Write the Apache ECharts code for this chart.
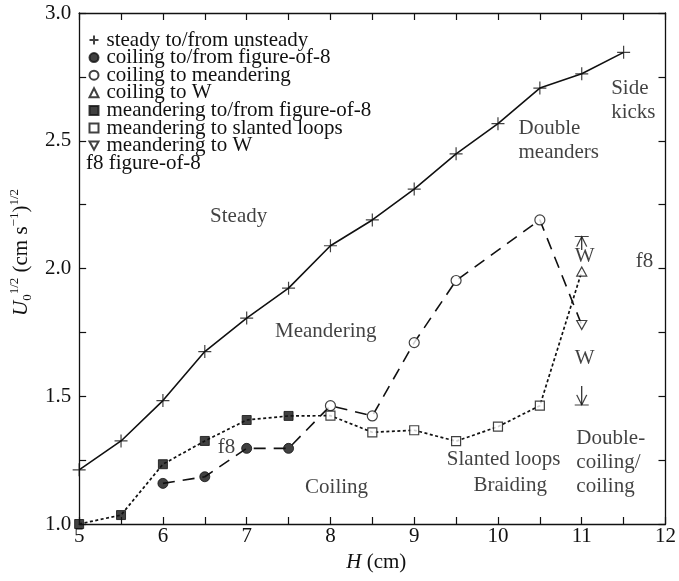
<!DOCTYPE html>
<html>
<head>
<meta charset="utf-8">
<script src="https://cdn.jsdelivr.net/npm/echarts@6/dist/echarts.min.js"></script>
<style>
html,body{margin:0;padding:0;background:#fff;}
#chart{width:679px;height:581px;}
</style>
</head>
<body>
<div id="chart"></div>
<script>
// ---- data (H in cm, U0^(1/2) in (cm s^-1)^(1/2)) ----
const steadyH = [5, 5.5, 6, 6.5, 7, 7.5, 8, 8.5, 9, 9.5, 10, 10.5, 11, 11.5];
const steadyU = [1.212, 1.325, 1.483, 1.675, 1.806, 1.923, 2.089, 2.19, 2.311, 2.449, 2.567, 2.706, 2.762, 2.846];

const coilF8H = [6, 6.5, 7, 7.5];
const coilF8U = [1.159, 1.185, 1.296, 1.296];

const coilMeanderH = [8, 8.5, 9, 9.5, 10.5];
const coilMeanderU = [1.463, 1.423, 1.71, 1.953, 2.19];

const coilWH = [11];
const coilWU = [1.988];

const meanderF8H = [5, 5.5, 6, 6.5, 7, 7.5];
const meanderF8U = [1.0, 1.035, 1.234, 1.325, 1.407, 1.423];

const meanderSlantedH = [8, 8.5, 9, 9.5, 10, 10.5];
const meanderSlantedU = [1.424, 1.359, 1.367, 1.324, 1.381, 1.463];

const meanderWH = [11];
const meanderWU = [1.779];

// W range arrows at H = 11 (start, end)
const wArrowUp = [[11, 2.072], [11, 2.125]];
const wArrowDown = [[11, 1.54], [11, 1.466]];

const xTicks = [5, 6, 7, 8, 9, 10, 11, 12];
const yTicks = [1.0, 1.5, 2.0, 2.5, 3.0];

// regime annotations in data coordinates
const regionText = ['Steady', 'Meandering', 'Double\nmeanders', 'Side\nkicks', 'f8', 'f8', 'W', 'W',
  'Double-\ncoiling/\ncoiling', 'Slanted loops', 'Braiding', 'Coiling'];
const regionH = [6.904, 7.944, 10.245, 11.351, 11.748, 6.758, 11.035, 11.035, 10.936, 10.068, 10.146, 8.073];
const regionU = [2.204, 1.753, 2.502, 2.657, 2.027, 1.299, 2.047, 1.649, 1.241, 1.253, 1.149, 1.142];
const regionAlign = ['center', 'center', 'left', 'left', 'center', 'center', 'center', 'center', 'left', 'center', 'center', 'center'];

// ---- helpers ----
const zip = (xs, ys) => xs.map((x, i) => [x, ys[i]]);
const FONT = 'Liberation Serif';
const INK = '#111';

const plusPath = 'path://M6,0 L6,12 M0,6 L12,6';
const downTri = 'path://M0,0 L10,0 L5,9 Z';
const upHead = 'path://M0,0 L14,0 M2,10 L7,0 L12,10';
const downHead = 'path://M0,10 L14,10 M2,0 L7,10 L12,0';

const dashedLine = zip(coilF8H, coilF8U).concat(zip(coilMeanderH, coilMeanderU), zip(meanderWH, meanderWU));
const dottedLine = zip(meanderF8H, meanderF8U).concat(zip(meanderSlantedH, meanderSlantedU), zip(coilWH, coilWU));

const openStyle = {color: '#fff', borderColor: INK, borderWidth: 1.2};
const fillStyle = {color: INK, borderColor: INK, borderWidth: 1};

const axisCommon = {
  type: 'value',
  axisLine: {show: true, lineStyle: {color: INK, width: 1.3}},
  axisTick: {show: true, inside: true, length: 7, lineStyle: {color: INK, width: 1.2}},
  splitLine: {show: false}
};

const chart = echarts.init(document.getElementById('chart'), null, {renderer: 'canvas'});

const option = {
  backgroundColor: '#fff',
  animation: false,
  textStyle: {fontFamily: FONT, color: INK},
  grid: {left: 77, right: 11, top: 13, bottom: 57, containLabel: false},
  legend: {
    orient: 'vertical',
    left: 88.5,
    top: 29.5,
    padding: 0,
    itemWidth: 9,
    itemHeight: 9,
    itemGap: -3.4,
    selectedMode: false,
    textStyle: {fontFamily: FONT, fontSize: 21, color: INK, padding: [0, 0, 0, 3]},
    data: [
      {name: 'steady to/from unsteady', icon: plusPath},
      {name: 'coiling to/from figure-of-8'},
      {name: 'coiling to meandering'},
      {name: 'coiling to W'},
      {name: 'meandering to/from figure-of-8'},
      {name: 'meandering to slanted loops'},
      {name: 'meandering to W'}
    ]
  },
  graphic: [{
    type: 'text', left: 86, top: 153,
    style: {text: 'f8 figure-of-8', font: '21px "Liberation Serif"', fill: INK}
  }],
  xAxis: [
    Object.assign({}, axisCommon, {
      min: 5, max: 12, interval: 0.5, position: 'bottom',
      name: '{i|H} (cm)', nameLocation: 'middle', nameGap: 26,
      nameTextStyle: {fontFamily: FONT, fontSize: 21, color: INK, padding: [0, 0, 0, 8],
        rich: {i: {fontStyle: 'italic', fontFamily: FONT, fontSize: 21, color: INK}}},
      axisLabel: {show: true, margin: 2, fontFamily: FONT, fontSize: 21, color: INK,
        formatter: v => xTicks.indexOf(v) >= 0 ? String(v) : ''}
    }),
    Object.assign({}, axisCommon, {
      min: 5, max: 12, interval: 0.5, position: 'top', axisLabel: {show: false}
    })
  ],
  yAxis: [
    Object.assign({}, axisCommon, {
      min: 1, max: 3, interval: 0.25, position: 'left',
      name: '{i|U}{sub|0}{sup|1/2}{n| (cm s}{sup|−1}{n|)}{sup|1/2}',
      nameLocation: 'middle', nameRotate: 90, nameGap: 38,
      nameTextStyle: {fontFamily: FONT, fontSize: 21, color: INK, padding: [0, 0, 0, 32],
        rich: {
          i: {fontStyle: 'italic', fontFamily: FONT, fontSize: 21, lineHeight: 26, color: INK},
          n: {fontFamily: FONT, fontSize: 21, lineHeight: 26, color: INK},
          sup: {fontFamily: FONT, fontSize: 13, lineHeight: 13, verticalAlign: 'top', color: INK},
          sub: {fontFamily: FONT, fontSize: 13, lineHeight: 13, verticalAlign: 'bottom', color: INK}
        }},
      axisLabel: {show: true, margin: 8, fontFamily: FONT, fontSize: 21, color: INK,
        formatter: v => yTicks.some(t => Math.abs(t - v) < 1e-9) ? v.toFixed(1) : ''}
    }),
    Object.assign({}, axisCommon, {
      min: 1, max: 3, interval: 0.25, position: 'right', axisLabel: {show: false}
    })
  ],
  series: [
    // connecting lines
    {type: 'line', name: 'steadyLine', data: zip(steadyH, steadyU), showSymbol: false, symbol: 'none',
      lineStyle: {color: INK, width: 1.6}, z: 2},
    {type: 'line', name: 'dashedLine', data: dashedLine, showSymbol: false, symbol: 'none',
      lineStyle: {color: INK, width: 1.6, type: [12, 8]}, z: 2},
    {type: 'line', name: 'dottedLine', data: dottedLine, showSymbol: false, symbol: 'none',
      lineStyle: {color: INK, width: 1.7, type: [3, 2.5]}, z: 2},
    {type: 'line', name: 'wUp', data: wArrowUp, showSymbol: false, symbol: 'none',
      lineStyle: {color: INK, width: 1.1}, z: 2},
    {type: 'line', name: 'wDown', data: wArrowDown, showSymbol: false, symbol: 'none',
      lineStyle: {color: INK, width: 1.1}, z: 2},
    // arrow heads with bars
    {type: 'scatter', name: 'wUpHead', data: [wArrowUp[1]], symbol: upHead, symbolSize: [14, 10],
      symbolOffset: [0, 5], itemStyle: {color: 'transparent', borderColor: INK, borderWidth: 1.1}, z: 3},
    {type: 'scatter', name: 'wDownHead', data: [wArrowDown[1]], symbol: downHead, symbolSize: [14, 10],
      symbolOffset: [0, -5], itemStyle: {color: 'transparent', borderColor: INK, borderWidth: 1.1}, z: 3},
    // markers
    {type: 'scatter', name: 'steady to/from unsteady', data: zip(steadyH, steadyU), symbol: plusPath,
      symbolSize: 13, itemStyle: {color: 'transparent', borderColor: INK, borderWidth: 1.2}, z: 4},
    {type: 'scatter', name: 'coiling to/from figure-of-8', data: zip(coilF8H, coilF8U), symbol: 'circle',
      symbolSize: 10, itemStyle: fillStyle, z: 4},
    {type: 'scatter', name: 'coiling to meandering', data: zip(coilMeanderH, coilMeanderU), symbol: 'circle',
      symbolSize: 10, itemStyle: openStyle, z: 4},
    {type: 'scatter', name: 'coiling to W', data: zip(coilWH, coilWU), symbol: 'triangle',
      symbolSize: [10, 9], itemStyle: openStyle, z: 4},
    {type: 'scatter', name: 'meandering to/from figure-of-8', data: zip(meanderF8H, meanderF8U), symbol: 'rect',
      symbolSize: 9, itemStyle: fillStyle, z: 4},
    {type: 'scatter', name: 'meandering to slanted loops', data: zip(meanderSlantedH, meanderSlantedU), symbol: 'rect',
      symbolSize: 9, itemStyle: openStyle, z: 4},
    {type: 'scatter', name: 'meandering to W', data: zip(meanderWH, meanderWU), symbol: downTri,
      symbolSize: [10, 9], itemStyle: openStyle, z: 4},
    // regime labels
    {type: 'scatter', name: 'regions', symbolSize: 0, silent: true, z: 5,
      itemStyle: {color: 'transparent'},
      data: regionText.map((t, i) => ({
        value: [regionH[i], regionU[i]],
        label: {show: true, formatter: t, position: [0, 0], align: regionAlign[i], verticalAlign: 'middle',
          fontFamily: FONT, fontSize: 21, color: INK, lineHeight: 24}
      }))
    }
  ]
};

chart.setOption(option);
</script>
</body>
</html>
